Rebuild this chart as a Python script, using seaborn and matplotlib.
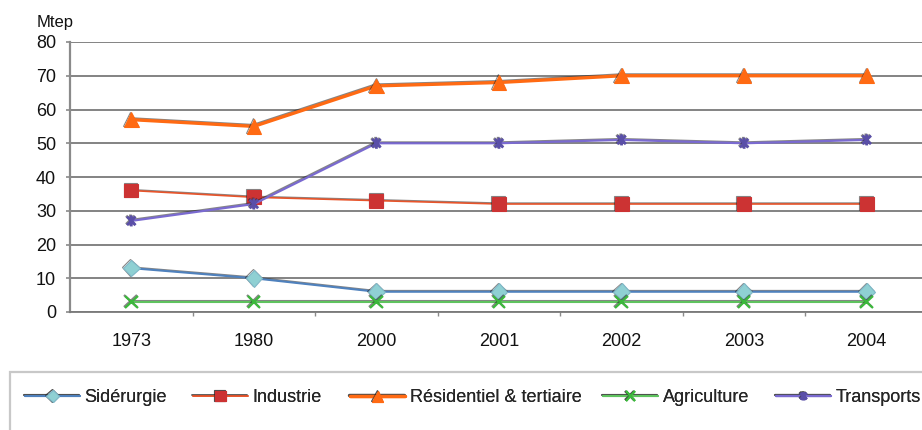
import matplotlib
matplotlib.use("Agg")
import matplotlib.pyplot as plt
import matplotlib.patheffects as pe
from matplotlib.path import Path
from matplotlib.patches import Rectangle
import seaborn as sns
import pandas as pd

# Consommation finale d'énergie par secteur (Mtep)
years = ["1973", "1980", "2000", "2001", "2002", "2003", "2004"]
siderurgie = [13, 10, 6, 6, 6, 6, 6]
industrie = [36, 34, 33, 32, 32, 32, 32]
residentiel = [57, 55, 67, 68, 70, 70, 70]
agriculture = [3, 3, 3, 3, 3, 3, 3]
transports = [27, 32, 50, 50, 51, 50, 51]

sns.set_theme(style="white")
plt.rcParams["font.family"] = ["Liberation Sans", "DejaVu Sans"]

# asterisk-like marker: an X with a vertical bar
star = Path(
    [(-1, -1), (1, 1), (-1, 1), (1, -1), (0, -1.3), (0, 1.3)],
    [Path.MOVETO, Path.LINETO, Path.MOVETO, Path.LINETO, Path.MOVETO, Path.LINETO],
)

series = [
    dict(name="Sidérurgie", values=siderurgie, color="#4f81bd", lw=1.5,
         marker="D", ms=8.5, mfc="#8fd0d3", mec="#7fb8c8", mew=0.8),
    dict(name="Industrie", values=industrie, color="#e8542a", lw=1.2,
         marker="s", ms=10, mfc="#cc3333", mec="#cc3333", mew=0.8),
    dict(name="Résidentiel & tertiaire", values=residentiel, color="#ff6a13", lw=2.4,
         marker="^", ms=10.5, mfc="#ff6a13", mec="#ff6a13", mew=0.8),
    dict(name="Agriculture", values=agriculture, color="#5fc35f", lw=1.5,
         marker="x", ms=9, mfc="#3cb83c", mec="#3cb83c", mew=1.6),
    dict(name="Transports", values=transports, color="#7a6ad0", lw=1.6,
         marker=star, ms=8, mfc="#5a4fa8", mec="#5a4fa8", mew=2.0),
]

fig = plt.figure(figsize=(9.22, 4.30), dpi=100)
ax = fig.add_axes([70 / 922, 118 / 430, 858 / 922, 270 / 430])

x_pos = list(range(len(years)))
for s in series:
    df = pd.DataFrame({"pos": x_pos, "val": s["values"]})
    sns.lineplot(
        data=df, x="pos", y="val", ax=ax, label=s["name"],
        color=s["color"], linewidth=s["lw"], marker=s["marker"],
        markersize=s["ms"], markerfacecolor=s["mfc"],
        markeredgecolor=s["mec"], markeredgewidth=s["mew"],
        path_effects=[pe.SimpleLineShadow(offset=(-0.6, 0.6), shadow_color="#222222", alpha=0.55),
                      pe.Normal()],
        zorder=3,
    )

ax.set_xlim(-0.5, 6.5)
ax.set_ylim(0, 80)
ax.set_yticks(range(0, 81, 10))
ax.set_xticks(x_pos)
ax.set_xticklabels(years)
ax.set_xticks([p + 0.5 for p in x_pos[:-1]], minor=True)
ax.set_xlabel("")
ax.set_ylabel("")

ax.grid(axis="y", color="#7a7a7a", linewidth=1.3, zorder=0)
ax.set_axisbelow(True)
for side in ("top", "right"):
    ax.spines[side].set_visible(False)
ax.spines["left"].set_color("#8a8a8a")
ax.spines["left"].set_linewidth(1.6)
ax.spines["bottom"].set_color("#7a7a7a")
ax.spines["bottom"].set_linewidth(1.3)

ax.tick_params(axis="y", which="major", left=True, length=3, width=1.2,
               color="#8a8a8a", pad=7, labelsize=13, labelcolor="#111111")
ax.tick_params(axis="x", which="major", bottom=False, pad=9,
               labelsize=13, labelcolor="#111111")
ax.tick_params(axis="x", which="minor", bottom=True, length=3, width=1.0,
               color="#8a8a8a")

fig.text(37 / 922, 1 - 22 / 430, "Mtep", fontsize=12, va="center", ha="left",
         color="#111111")

# legend box, running off the lower and right edges
fig.patches.append(Rectangle((10 / 922, -0.05), 1.0, 58 / 430 + 0.05,
                             transform=fig.transFigure, fill=False,
                             edgecolor="#c8c8c8", linewidth=1.6))
handles, labels = ax.get_legend_handles_labels()
ax.get_legend().remove()
entry_x = [25, 193, 350, 603, 776]
for h, lab, xe in zip(handles, labels, entry_x):
    leg = fig.legend([h], [lab], loc="center left",
                     bbox_to_anchor=(xe / 922, 1 - 398 / 430), frameon=False,
                     handlelength=3.05, handletextpad=0.25, fontsize=13,
                     borderpad=0, borderaxespad=0, markerscale=0.75)
    fig.add_artist(leg)

fig.savefig("out.png", dpi=100)
